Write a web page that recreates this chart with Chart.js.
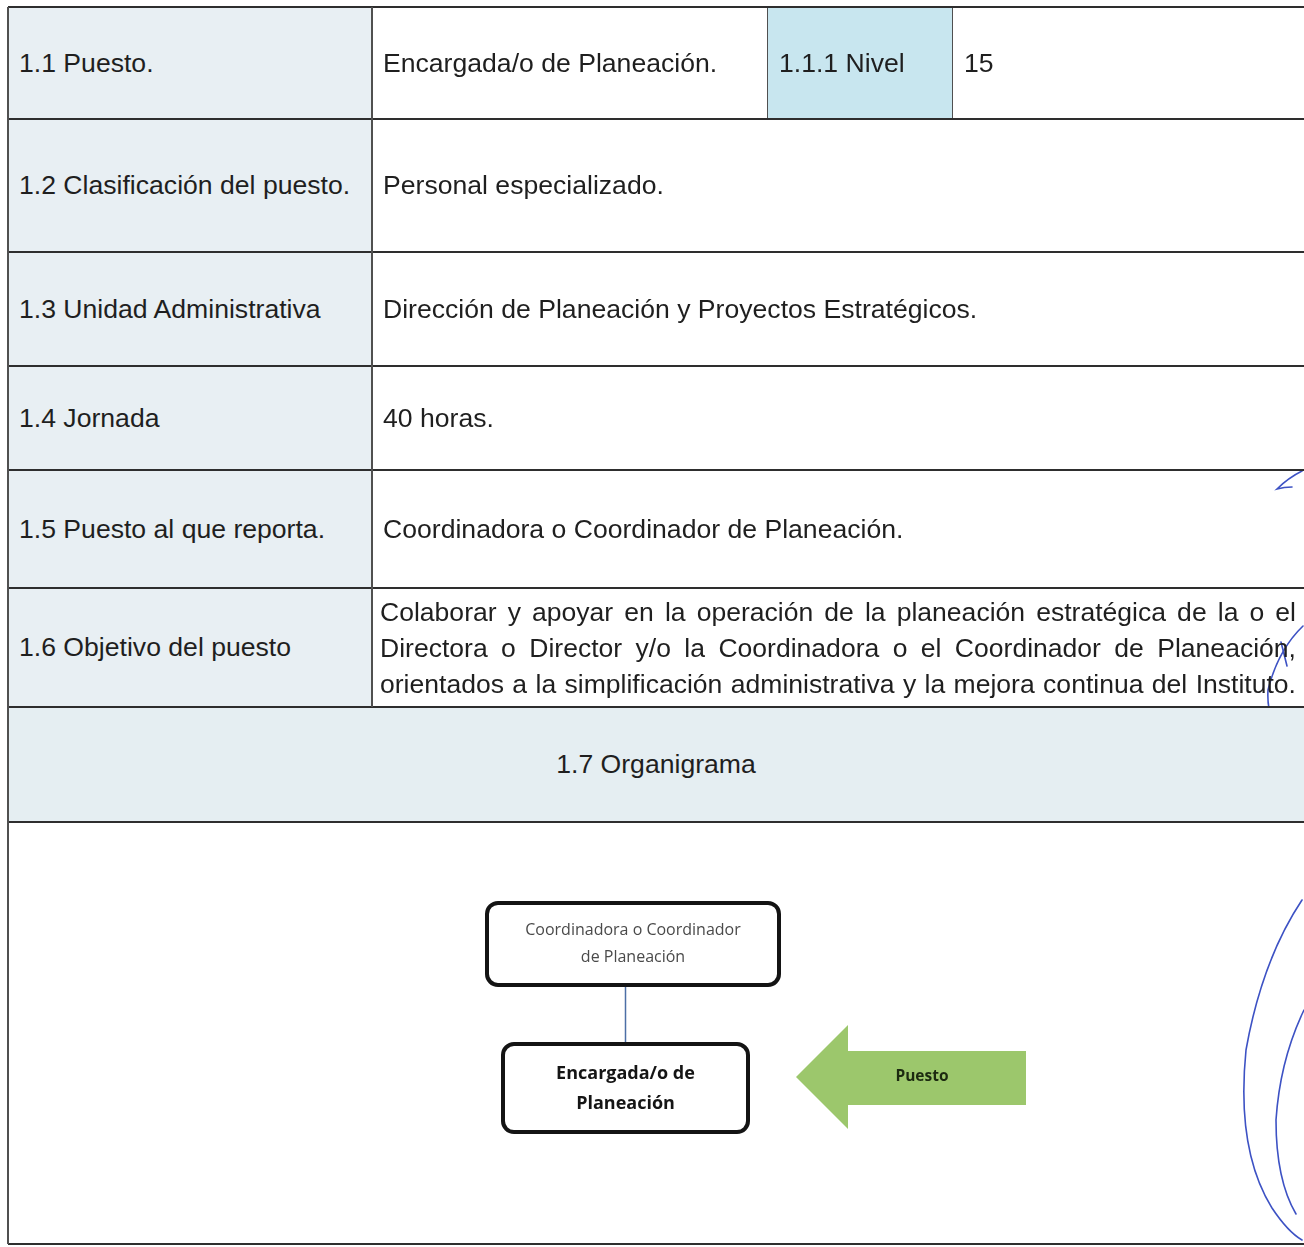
<!DOCTYPE html>
<html lang="es">
<head>
<meta charset="utf-8">
<script src="https://cdn.jsdelivr.net/npm/chart.js@4.4.1/dist/chart.umd.min.js"></script>
<style>
body { margin: 0; background: #fff; width: 1304px; height: 1247px; overflow: hidden; position: relative; font-family: "Liberation Sans", Arial, sans-serif; color: #1f1f1f; }
.cell { position: absolute; box-sizing: border-box; display: flex; align-items: center; font-size: 26.6px; white-space: nowrap; }
.lbl { background: #e8eff3; padding-left: 11px; }
.val { padding-left: 11px; }
.nivel { background: #c8e6ef; padding-left: 11px; }
.head { background: #e5eef2; justify-content: center; }
.hline { position: absolute; left: 8px; width: 1296px; height: 2px; background: #2e2e2e; }
.vline { position: absolute; width: 2px; background: #505050; }
.para { position: absolute; transform-origin: 0 0; font-size: 26.6px; line-height: 36px; }
.para div { text-align: justify; text-align-last: justify; white-space: nowrap; }
#org { position: absolute; left: 9px; top: 824px; }
svg { position: absolute; left: 0; top: 0; }
</style>
</head>
<body>
<canvas id="org" width="1295" height="419"></canvas>
<svg width="1304" height="1247">
  <g fill="none" stroke="#3d52c4" stroke-width="1.6" stroke-linecap="round">
    <path d="M1302 471 Q1288 478 1277 489 Q1284 487 1292 487"/>
    <path d="M1281 642 L1287 666"/>
    <path d="M1303 626 Q1278 650 1268 690 Q1266 726 1290 732 Q1298 734 1304 735"/>
    <path d="M1302 900 Q1262 960 1246 1050 Q1236 1150 1272 1208 Q1288 1232 1302 1240"/>
    <path d="M1304 1010 Q1280 1060 1276 1120 Q1276 1180 1296 1214"/>
  </g>
</svg>
<script>
// Ficha del puesto
const rowLabels = ["1.1 Puesto.", "1.2 Clasificación del puesto.", "1.3  Unidad Administrativa", "1.4 Jornada", "1.5 Puesto al que reporta.", "1.6 Objetivo del puesto"];
const rowValues = ["Encargada/o de Planeación.", "Personal especializado.", "Dirección de Planeación y Proyectos Estratégicos.", "40 horas.", "Coordinadora o Coordinador de Planeación."];
const objectiveLines = [
  "Colaborar y apoyar en la operación de la planeación estratégica de la o el",
  "Directora o Director y/o la Coordinadora o el Coordinador de Planeación,",
  "orientados a la simplificación administrativa y la mejora continua del Instituto."
];
const levelLabel = "1.1.1 Nivel";
const levelValue = "15";
const orgTitle = "1.7 Organigrama";

// Organigrama
const nodeNames = [["Coordinadora o Coordinador", "de Planeación"], ["Encargada/o de", "Planeación"]];
const nodeLevels = [0, 1];
const nodeShift = [0, -0.075];
const pointerLabel = "Puesto";
const pointerLevel = 0.924;
const pointerShift = 2.78;

// layout
const rowTops = [7, 119, 252, 366, 470, 588, 707, 822, 1244];
const colX = [8, 372, 1304];

function addDiv(cls, x, y, w, h, text) {
    const d = document.createElement("div");
    d.className = cls;
    d.style.left = x + "px";
    d.style.top = y + "px";
    d.style.width = w + "px";
    d.style.height = h + "px";
    if (text !== undefined) d.textContent = text;
    document.body.appendChild(d);
    return d;
}

for (let i = 0; i < rowLabels.length; i++) {
    const top = rowTops[i], h = rowTops[i + 1] - rowTops[i];
    addDiv("cell lbl", colX[0], top, colX[1] - colX[0], h, rowLabels[i]);
    if (i === 0) {
        addDiv("cell val", 372, top, 396, h, rowValues[0]);
        addDiv("cell nivel", 768, top, 185, h, levelLabel);
        addDiv("cell val", 953, top, 351, h, levelValue);
        addDiv("vline", 767, top, 0, h).style.width = "1px";
        addDiv("vline", 952, top, 0, h).style.width = "1px";
    } else if (i < rowValues.length) {
        addDiv("cell val", colX[1], top, colX[2] - colX[1], h, rowValues[i]);
    }
}

// objetivo del puesto: narrowed like the scan, lines justified to 916px
const para = document.createElement("div");
para.className = "para";
para.style.left = "380px";
para.style.top = "594px";
objectiveLines.forEach(t => {
    const l = document.createElement("div");
    l.textContent = t;
    para.appendChild(l);
});
document.body.appendChild(para);
const mctx = document.createElement("canvas").getContext("2d");
mctx.font = "26.6px 'Liberation Sans'";
const widest = Math.max(...objectiveLines.map(t => mctx.measureText(t).width));
const squeeze = 906 / widest;
para.style.width = (916 / squeeze) + "px";
para.style.transform = "scaleX(" + squeeze + ")";

addDiv("cell head", colX[0], rowTops[6], colX[2] - colX[0], rowTops[7] - rowTops[6], orgTitle);

// grid lines
rowTops.forEach(y => addDiv("hline", 8, y - 1, 1296, 2));
addDiv("vline", colX[1] - 1, rowTops[0], 0, rowTops[6] - rowTops[0]).style.width = "1.5px";
addDiv("vline", colX[0] - 1, rowTops[0], 0, rowTops[8] - rowTops[0]).style.width = "2px";

// box sizes for the two nodes
const boxW = [292, 245], boxH = [82, 88];

const orgBoxes = {
    id: "orgBoxes",
    afterDatasetsDraw(chart) {
        const ctx = chart.ctx;
        const nodes = chart.getDatasetMeta(1).data;
        nodes.forEach((el, i) => {
            const w = boxW[i], h = boxH[i];
            ctx.save();
            ctx.beginPath();
            ctx.roundRect(el.x - w / 2, el.y - h / 2, w, h, 11);
            ctx.fillStyle = "#fff";
            ctx.fill();
            ctx.lineWidth = 4;
            ctx.strokeStyle = "#141414";
            ctx.stroke();
            ctx.textAlign = "center";
            ctx.textBaseline = "middle";
            if (i === 0) {
                ctx.font = "16px 'Open Sans'";
                ctx.fillStyle = "#4a4a4a";
                ctx.fillText(nodeNames[i][0], el.x, el.y - 14);
                ctx.fillText(nodeNames[i][1], el.x, el.y + 13);
            } else {
                ctx.font = "bold 18px 'Open Sans'";
                ctx.fillStyle = "#151515";
                ctx.fillText(nodeNames[i][0], el.x, el.y - 14);
                ctx.fillText(nodeNames[i][1], el.x, el.y + 16);
            }
            ctx.restore();
        });
        const p = chart.getDatasetMeta(2).data[0];
        ctx.save();
        ctx.beginPath();
        ctx.moveTo(p.x - 115, p.y);
        ctx.lineTo(p.x - 63, p.y - 52);
        ctx.lineTo(p.x - 63, p.y - 26);
        ctx.lineTo(p.x + 115, p.y - 26);
        ctx.lineTo(p.x + 115, p.y + 28);
        ctx.lineTo(p.x - 63, p.y + 28);
        ctx.lineTo(p.x - 63, p.y + 52);
        ctx.closePath();
        ctx.fillStyle = "#9cc76c";
        ctx.fill();
        ctx.font = "bold 15.5px 'Open Sans'";
        ctx.fillStyle = "#1c2a10";
        ctx.textAlign = "center";
        ctx.textBaseline = "middle";
        ctx.fillText(pointerLabel, p.x + 11, p.y);
        ctx.restore();
    }
};

const orgChart = new Chart(document.getElementById("org").getContext("2d"), {
    type: "scatter",
    data: {
        datasets: [{
            type: "line",
            data: [{ x: nodeShift[1], y: nodeLevels[0] }, { x: nodeShift[1], y: nodeLevels[1] }],
            borderColor: "#4c6fa6",
            borderWidth: 1.5,
            pointRadius: 0
        }, {
            data: nodeLevels.map((lv, i) => ({ x: nodeShift[i], y: lv })),
            pointRadius: 0
        }, {
            data: [{ x: pointerShift, y: pointerLevel }],
            pointRadius: 0
        }]
    },
    options: {
        responsive: false,
        animation: false,
        layout: { padding: 0 },
        plugins: { legend: { display: false }, tooltip: { enabled: false } },
        scales: {
            x: { type: "linear", min: -6.24, max: 6.71, display: false },
            y: { type: "linear", min: -0.833, max: 2.076, reverse: true, display: false }
        }
    },
    plugins: [orgBoxes]
});
</script>
</body>
</html>
